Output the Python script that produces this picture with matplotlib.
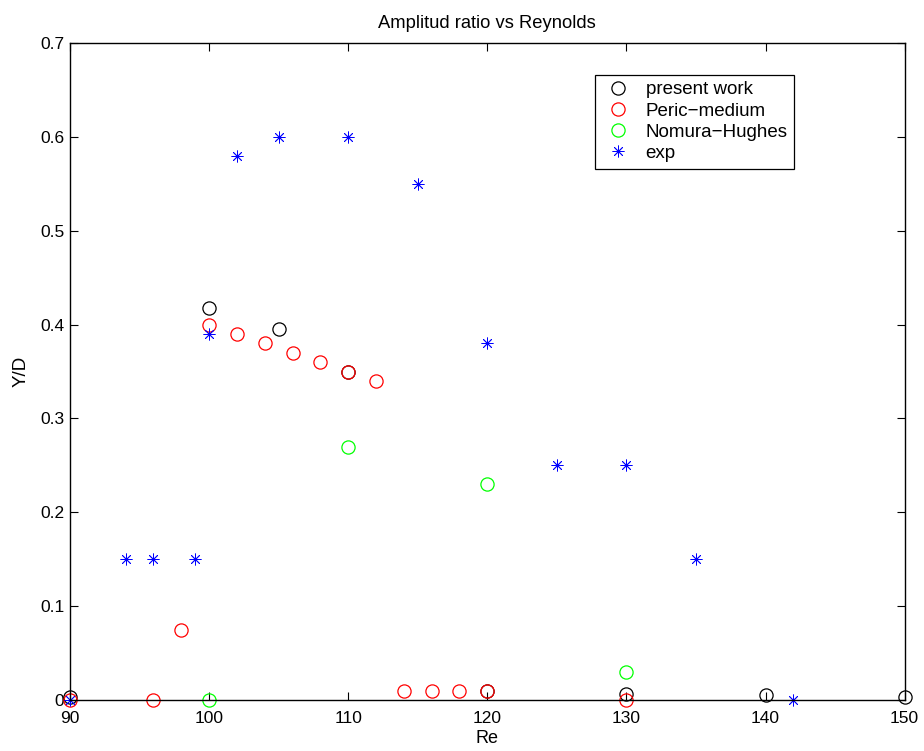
import matplotlib
matplotlib.use("Agg")
import matplotlib.pyplot as plt

plt.rcParams['font.family'] = ['Liberation Sans', 'DejaVu Sans']

# present work
re_present = [90, 100, 105, 110, 120, 130, 140, 150]
yd_present = [0.003, 0.418, 0.395, 0.35, 0.01, 0.006, 0.005, 0.003]

# Peric medium mesh
re_peric = [90, 96, 98, 100, 102, 104, 106, 108, 110, 112, 114, 116, 118, 120, 130]
yd_peric = [0.0, 0.0, 0.075, 0.40, 0.39, 0.38, 0.37, 0.36, 0.35, 0.34,
            0.01, 0.01, 0.01, 0.01, 0.0]

# Nomura & Hughes
re_nomura = [100, 110, 120, 130]
yd_nomura = [0.0, 0.27, 0.23, 0.03]

# experiments
re_exp = [90, 94, 96, 99, 100, 102, 105, 110, 115, 120, 125, 130, 135, 142]
yd_exp = [0.0, 0.15, 0.15, 0.15, 0.39, 0.58, 0.60, 0.60, 0.55, 0.38,
          0.25, 0.25, 0.15, 0.0]

fig = plt.figure(figsize=(9.24, 7.51), dpi=100)
ax = fig.add_axes([0.0758, 0.0679, 0.9032, 0.8748])

ax.plot(re_present, yd_present, 'o', mfc='none', mec='k', ms=9.5, mew=0.9,
        label='present work', clip_on=False)
ax.plot(re_peric, yd_peric, 'o', mfc='none', mec='#ff0000', ms=9.5, mew=0.9,
        label='Peric\u2212medium', clip_on=False)
ax.plot(re_nomura, yd_nomura, 'o', mfc='none', mec='#00ff00', ms=9.5, mew=0.9,
        label='Nomura\u2212Hughes', clip_on=False)
ax.plot(re_exp, yd_exp, ls='none', marker=(8, 2, 0), color='#0000ff', ms=8.5,
        mew=0.6, label='exp', clip_on=False)

ax.set_xlim(90, 150)
ax.set_ylim(0, 0.7)
ax.set_xticks(range(90, 151, 10))
ax.set_yticks([i / 10 for i in range(8)])
ax.set_yticklabels(['0', '0.1', '0.2', '0.3', '0.4', '0.5', '0.6', '0.7'])
ax.tick_params(direction='in', length=6, width=0.8, top=True, right=True,
               labelsize=12.5, pad=4)
ax.tick_params(axis='x', pad=8)
for s in ax.spines.values():
    s.set_linewidth(1.0)

ax.set_xlabel('Re', fontsize=13, labelpad=3)
ax.set_ylabel('Y/D', fontsize=13.5, labelpad=8)
ax.set_title('Amplitud ratio vs Reynolds', fontsize=13.2, pad=11)

leg = ax.legend(loc='upper left', bbox_to_anchor=(0.629, 0.952), fontsize=13.5,
                frameon=True, fancybox=False, edgecolor='k', framealpha=1,
                borderpad=0.35, handletextpad=0.55, labelspacing=0.22,
                handlelength=1.8, borderaxespad=0)
leg.get_frame().set_linewidth(0.9)

fig.savefig('out.png', dpi=100)
